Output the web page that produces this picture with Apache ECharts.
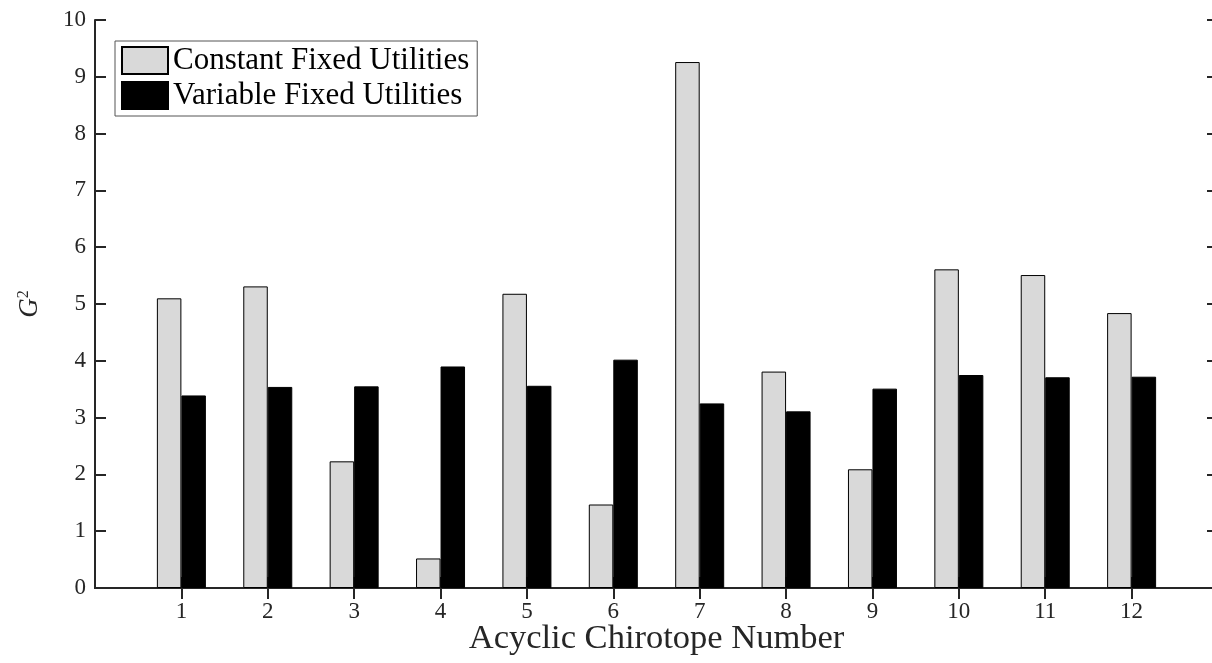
<!DOCTYPE html>
<html>
<head>
<meta charset="utf-8">
<script src="https://cdn.jsdelivr.net/npm/echarts@6/dist/echarts.min.js"></script>
<style>
  html, body { margin: 0; padding: 0; background: #fff; }
  #chart { width: 1212px; height: 663px; }
</style>
</head>
<body>
<div id="chart"></div>
<script>
// Chirotope numbers shown on the x axis
const categories = ['1', '2', '3', '4', '5', '6', '7', '8', '9', '10', '11', '12'];
// G^2 for each chirotope
const constantFixed = [5.10, 5.31, 2.23, 0.52, 5.18, 1.47, 9.26, 3.81, 2.09, 5.61, 5.51, 4.84];
const variableFixed = [3.39, 3.54, 3.55, 3.90, 3.56, 4.02, 3.25, 3.11, 3.51, 3.75, 3.71, 3.72];
const seriesNames = ['Constant Fixed Utilities', 'Variable Fixed Utilities'];
const yTicks = [0, 1, 2, 3, 4, 5, 6, 7, 8, 9, 10];

// The x range runs from 0 to 13 with the chirotopes at 1..12,
// so an empty slot is padded on each side of the category list.
const axisCats = [''].concat(categories, ['']);
const pad = arr => [null].concat(arr, [null]);

const FONT = 'Liberation Serif';
const INK = '#262626';

const chart = echarts.init(document.getElementById('chart'), null, { renderer: 'canvas' });

const xBase = {
  type: 'category',
  data: axisCats,
  boundaryGap: false,
  axisLine: { show: true, lineStyle: { color: INK, width: 2 } },
  axisTick: {
    show: true, inside: true, length: 11,
    interval: (i, v) => v !== '',
    lineStyle: { color: INK, width: 2 }
  },
  splitLine: { show: false }
};

const yBase = {
  type: 'value',
  min: yTicks[0],
  max: yTicks[yTicks.length - 1],
  interval: 1,
  axisLine: { show: true, lineStyle: { color: INK, width: 2 } },
  axisTick: { show: true, inside: true, length: 11, lineStyle: { color: INK, width: 2 } },
  splitLine: { show: false }
};

chart.setOption({
  animation: false,
  backgroundColor: '#ffffff',
  grid: {
    left: 95, top: 20, width: 1123, height: 568,
    containLabel: false,
    outerBoundsMode: 'none'
  },
  legend: {
    orient: 'vertical',
    left: 115,
    top: 41,
    padding: [4, 8, 5, 6],
    itemWidth: 46,
    itemHeight: 27,
    itemGap: 4,
    icon: 'rect',
    borderColor: '#555555',
    borderWidth: 1,
    backgroundColor: '#ffffff',
    textStyle: { fontFamily: FONT, fontSize: 31, color: '#000' },
    data: seriesNames
  },
  xAxis: [
    Object.assign({}, xBase, {
      position: 'bottom',
      name: 'Acyclic Chirotope Number',
      nameLocation: 'middle',
      nameGap: 33,
      nameMoveOverlap: false,
      nameTextStyle: { fontFamily: FONT, fontSize: 34.5, color: INK },
      axisLabel: {
        show: true, margin: 12, interval: 0,
        fontFamily: FONT, fontSize: 23, color: INK
      }
    }),
    Object.assign({}, xBase, {
      position: 'top',
      axisLabel: { show: false }
    })
  ],
  yAxis: [
    Object.assign({}, yBase, {
      position: 'left',
      name: '{i|G}{s|2}',
      nameLocation: 'middle',
      nameGap: 51,
      nameMoveOverlap: false,
      nameTextStyle: {
        color: INK,
        rich: {
          i: { fontFamily: FONT, fontStyle: 'italic', fontSize: 27, color: INK },
          s: { fontFamily: FONT, fontSize: 16, color: INK, verticalAlign: 'top', padding: [0, 0, 12, 0] }
        }
      },
      axisLabel: { margin: 9, fontFamily: FONT, fontSize: 23, color: INK }
    }),
    Object.assign({}, yBase, {
      position: 'right',
      axisLabel: { show: false }
    })
  ],
  series: [
    {
      name: seriesNames[0],
      type: 'bar',
      xAxisIndex: 0,
      yAxisIndex: 0,
      data: pad(constantFixed),
      barWidth: 24.5,
      barGap: '0%',
      itemStyle: { color: '#d9d9d9', borderColor: '#000', borderWidth: 1 }
    },
    {
      name: seriesNames[1],
      type: 'bar',
      xAxisIndex: 0,
      yAxisIndex: 0,
      data: pad(variableFixed),
      barWidth: 24.5,
      barGap: '0%',
      itemStyle: { color: '#000000', borderColor: '#000', borderWidth: 1 }
    }
  ]
});
</script>
</body>
</html>
